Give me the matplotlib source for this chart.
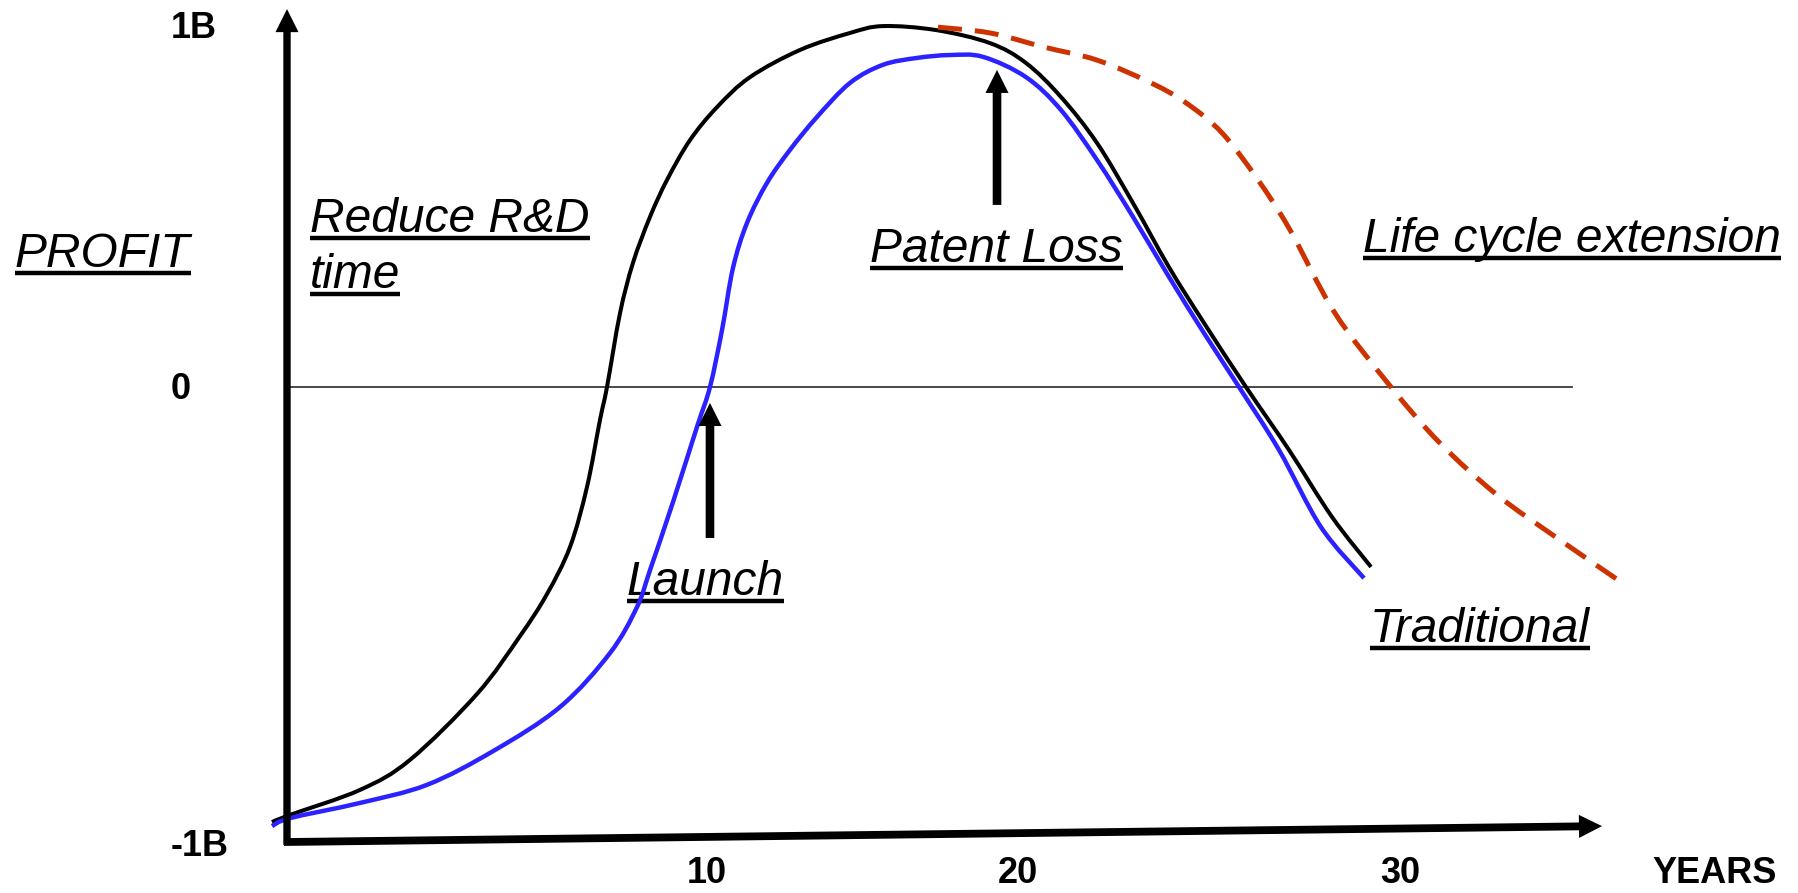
import matplotlib
matplotlib.use("Agg")
import numpy as np
import matplotlib.pyplot as plt
from matplotlib.patches import ArrowStyle, PathPatch
from matplotlib.path import Path

# ---------------- data (years, profit in billions) ----------------
black_x = [-0.357, 0.071, 1.738, 2.929, 4.524, 5.548, 6.190, 6.738, 7.143, 7.452, 7.619,
           7.929, 8.238, 8.643, 9.048, 9.595, 10.238, 11.024, 12.214, 13.405, 14.190,
           15.452, 16.738, 17.595, 18.429, 19.286, 20.143, 21.000, 21.833, 22.833,
           23.857, 24.881, 25.810]
black_y = [-1.202, -1.182, -1.113, -1.030, -0.848, -0.688, -0.572, -0.442, -0.276, -0.091, 0.000,
           0.204, 0.343, 0.470, 0.572, 0.682, 0.773, 0.856, 0.931, 0.978, 0.997,
           0.986, 0.950, 0.895, 0.801, 0.674, 0.508, 0.331, 0.177, 0.000,
           -0.174, -0.359, -0.497]

blue_x = [-0.357, 0.071, 1.738, 3.333, 4.905, 6.500, 7.690, 8.333, 8.643, 9.190, 9.762,
          10.071, 10.357, 10.619, 10.952, 11.429, 11.976, 12.619, 13.405, 14.190,
          15.000, 15.786, 16.571, 17.595, 18.429, 19.286, 20.143, 21.000, 21.833, 22.667,
          23.619, 24.619, 25.643]
blue_y = [-1.213, -1.191, -1.149, -1.099, -1.006, -0.884, -0.735, -0.608, -0.506, -0.318, -0.110,
          0.000, 0.157, 0.329, 0.453, 0.564, 0.655, 0.746, 0.840, 0.890,
          0.909, 0.917, 0.912, 0.856, 0.765, 0.627, 0.470, 0.304, 0.149, 0.000,
          -0.174, -0.387, -0.528]

red_x = [15.500, 16.738, 18.024, 19.286, 20.571, 21.405, 22.262, 23.119, 23.881, 24.952,
         26.286, 27.452, 28.810, 30.238, 31.690]
red_y = [0.994, 0.978, 0.939, 0.903, 0.840, 0.785, 0.702, 0.572, 0.434, 0.204,
         0.000, -0.155, -0.298, -0.417, -0.533]

zero_line_x = [0.07, 30.6]

x_tick_pos = [10.0, 17.4, 26.5]
x_tick_labels = ["10", "20", "30"]
x_title = "YEARS"
x_title_pos = 34.0
x_label_y = -1.345

y_tick_pos = [0.990, -0.008, -1.268]
y_tick_labels = ["1B", "0", "-1B"]
y_label_x = -2.76

# annotation texts: (text, x, baseline y)
notes = [
    ("PROFIT", -6.476, 0.331),
    ("Reduce R&D", 0.548, 0.428),
    ("time", 0.548, 0.273),
    ("Patent Loss", 13.88, 0.345),
    ("Launch", 8.095, -0.575),
    ("Life cycle extension", 25.62, 0.373),
    ("Traditional", 25.79, -0.704),
]

# arrows: (tail, tip)
y_axis_arrow = ((0.0, -1.265), (0.0, 1.044))
x_axis_arrow = ((-0.071, -1.257), (31.31, -1.213))
launch_arrow = ((10.071, -0.417), (10.071, -0.044))
patent_arrow = ((16.905, 0.503), (16.905, 0.876))

# ---------------- figure ----------------
FONT = "Liberation Sans"
fig = plt.figure(figsize=(17.98, 8.93), dpi=100)
ax = fig.add_axes([0, 0, 1, 1])
ax.set_xlim(-287 / 42, (1798 - 287) / 42)
ax.set_ylim((387 - 893) / 362, 387 / 362)
ax.axis("off")


def smooth_path(xs, ys):
    """Cubic Bezier path (Catmull-Rom tangents) passing through the points."""
    p = np.column_stack([xs, ys]).astype(float)
    ext = np.vstack([p[0], p, p[-1]])
    verts = [p[0]]
    codes = [Path.MOVETO]
    for i in range(len(p) - 1):
        p0, p1, p2, p3 = ext[i], ext[i + 1], ext[i + 2], ext[i + 3]
        c1 = p1 + (p2 - p0) / 6.0
        c2 = p2 - (p3 - p1) / 6.0
        verts += [c1, c2, p2]
        codes += [Path.CURVE4] * 3
    return Path(np.array(verts), codes)


# zero line
ax.plot(zero_line_x, [0, 0], color="#3a3a3a", lw=1.3, zorder=1)

# curves
ax.add_patch(PathPatch(smooth_path(black_x, black_y), fill=False, edgecolor="black",
                       lw=2.9, capstyle="butt", joinstyle="round", zorder=3))
ax.add_patch(PathPatch(smooth_path(blue_x, blue_y), fill=False, edgecolor="#2B22FF",
                       lw=3.2, capstyle="butt", joinstyle="round", zorder=4))
ax.add_patch(PathPatch(smooth_path(red_x, red_y), fill=False, edgecolor="#CC3300",
                       lw=3.6, linestyle=(0, (4.8, 2.6)), capstyle="butt", zorder=5))


def arrow(tail, tip, tw):
    style = ArrowStyle("simple", head_length=16.6, head_width=16.6, tail_width=tw)
    ax.annotate("", xy=tip, xytext=tail,
                arrowprops=dict(arrowstyle=style, mutation_scale=1, color="black",
                                lw=0, shrinkA=0, shrinkB=0), zorder=6)


arrow(*y_axis_arrow, 5.3)
arrow(*x_axis_arrow, 5.6)
arrow(*launch_arrow, 6.2)
arrow(*patent_arrow, 6.2)

# tick labels
for p, lab in zip(x_tick_pos, x_tick_labels):
    ax.text(p, x_label_y, lab, family=FONT, fontweight="bold", fontsize=26,
            ha="center", va="center")
ax.text(x_title_pos, x_label_y, x_title, family=FONT, fontweight="bold", fontsize=26,
        ha="center", va="center")
for p, lab in zip(y_tick_pos, y_tick_labels):
    ax.text(y_label_x, p, lab, family=FONT, fontweight="bold", fontsize=26,
            ha="left", va="center")

# italic underlined notes
texts = []
for s, x, y in notes:
    texts.append(ax.text(x, y, s, family=FONT, style="italic", fontsize=34.5,
                         ha="left", va="baseline"))

fig.canvas.draw()
r = fig.canvas.get_renderer()
inv = ax.transData.inverted()
for t in texts:
    bb = t.get_window_extent(r)
    bx, by = ax.transData.transform(t.get_position())
    yu = by - 6
    (x0d, yd), (x1d, _) = inv.transform([(bb.x0, yu), (bb.x1, yu)])
    ax.plot([x0d, x1d], [yd, yd], color="black", lw=3.2, solid_capstyle="butt")

fig.savefig("out.png", dpi=100)
